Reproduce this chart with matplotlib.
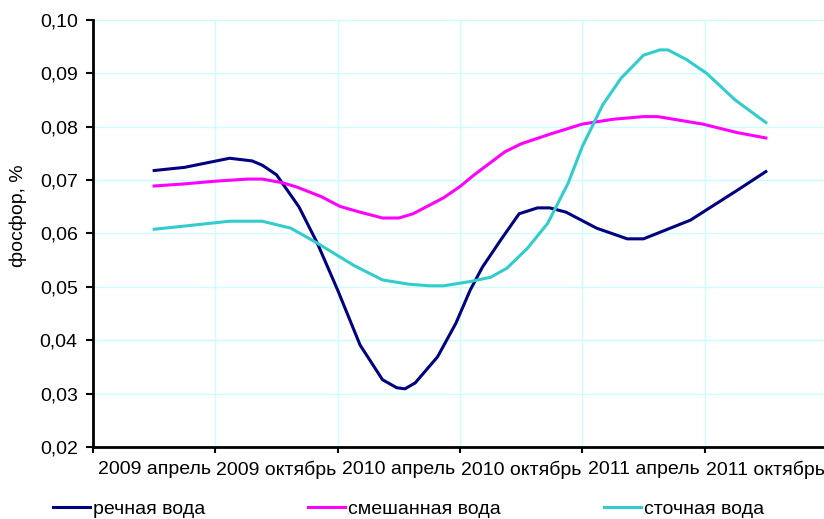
import matplotlib.pyplot as plt
from matplotlib.ticker import FuncFormatter, FixedLocator

# months counted from April 2009
river_x = [0, 1.5, 3.7, 4.8, 5.3, 6.0, 7.1, 8.0, 9.0, 10.1, 11.2, 11.9, 12.3, 12.8,
           13.9, 14.8, 15.5, 16.1, 17.0, 17.9, 18.8, 19.4, 20.2, 21.7, 23.2, 24.0,
           26.3, 28.6, 30]
river_y = [0.0718, 0.0724, 0.0741, 0.0736, 0.0728, 0.0710, 0.0650, 0.0582, 0.0494,
           0.0391, 0.0326, 0.0311, 0.0309, 0.0320, 0.0369, 0.0432, 0.0494, 0.0537,
           0.0588, 0.0637, 0.0648, 0.0648, 0.0640, 0.0610, 0.0590, 0.0590, 0.0625,
           0.0681, 0.0716]

mixed_x = [0, 1.5, 3.0, 4.6, 5.3, 6.3, 7.0, 8.2, 9.1, 10.0, 11.2, 12.0, 12.7, 14.2,
           15.0, 15.7, 17.2, 18.0, 19.4, 21.0, 22.5, 24.0, 24.7, 26.9, 28.6, 30]
mixed_y = [0.0689, 0.0693, 0.0698, 0.0702, 0.0702, 0.0695, 0.0687, 0.0669, 0.0651,
           0.0641, 0.0629, 0.0629, 0.0637, 0.0667, 0.0688, 0.0710, 0.0753, 0.0768,
           0.0786, 0.0805, 0.0814, 0.0819, 0.0819, 0.0805, 0.0789, 0.0779]

sewage_x = [0, 1.5, 3.7, 5.3, 6.7, 8.0, 9.8, 11.2, 12.5, 13.5, 14.2, 15.5, 16.5,
            17.3, 18.3, 19.3, 20.3, 21.0, 22.0, 22.9, 24.0, 24.8, 25.2, 26.1, 27.1,
            28.5, 30]
sewage_y = [0.0608, 0.0614, 0.0623, 0.0623, 0.0610, 0.0582, 0.0540, 0.0513, 0.0505,
            0.0502, 0.0502, 0.0510, 0.0518, 0.0535, 0.0572, 0.0619, 0.0694, 0.0763,
            0.0841, 0.0891, 0.0934, 0.0944, 0.0944, 0.0926, 0.0900, 0.0850, 0.0808]

period_pos = [0, 6, 12, 18, 24, 30]
period_labels = ['2009 апрель', '2009 октябрь', '2010 апрель', '2010 октябрь',
                 '2011 апрель', '2011 октябрь']
series_names = ['речная вода', 'смешанная вода', 'сточная вода']

plt.rcParams['font.family'] = ['Liberation Sans', 'DejaVu Sans']
fs = 14

W, H = 824, 519
fig = plt.figure(figsize=(W / 100, H / 100), dpi=100)
ax = fig.add_axes([93 / W, 72 / H, 734 / W, 427 / H])

grid_c = '#ccffff'
ax.plot(river_x, river_y, color='#000080', lw=2.2, label=series_names[0], zorder=3)
ax.plot(mixed_x, mixed_y, color='#ff00ff', lw=2.2, label=series_names[1], zorder=3)
ax.plot(sewage_x, sewage_y, color='#33cccc', lw=2.2, label=series_names[2], zorder=3)

ax.set_xlim(-3, 33)
ax.set_ylim(0.02, 0.10)
ax.set_yticks([0.02 + 0.01 * i for i in range(9)])
ax.yaxis.set_major_formatter(FuncFormatter(lambda v, p: f'{v:.2f}'.replace('.', ',')))

ax.xaxis.set_major_locator(FixedLocator([-3, 3, 9, 15, 21, 27, 33]))
ax.xaxis.set_major_formatter(FuncFormatter(lambda v, p: ''))
ax.xaxis.set_minor_locator(FixedLocator(period_pos))
ax.set_xticklabels(period_labels, minor=True)
ax.tick_params(axis='x', which='minor', length=0, pad=10, labelsize=fs)
ax.tick_params(axis='x', which='major', length=4, width=1.5, direction='out')
ax.tick_params(axis='y', length=5, width=1.5, direction='out', labelsize=fs, pad=6)

ax.grid(True, which='major', color=grid_c, lw=1, zorder=0)
ax.set_axisbelow(True)
for s in ['top', 'right']:
    ax.spines[s].set_visible(False)
for s in ['left', 'bottom']:
    ax.spines[s].set_linewidth(2)
    ax.spines[s].set_zorder(4)

fig.text(18 / W, 1 - 216 / H, 'фосфор, %', rotation=90, ha='center', va='center', fontsize=fs)

fig.legend(loc='lower left', bbox_to_anchor=(53 / W, 1 / H), ncol=3, frameon=False,
           fontsize=fs, handlelength=1.9, handletextpad=0.15, columnspacing=5.3,
           borderpad=0, borderaxespad=0)

fig.savefig('out.png', dpi=100)
